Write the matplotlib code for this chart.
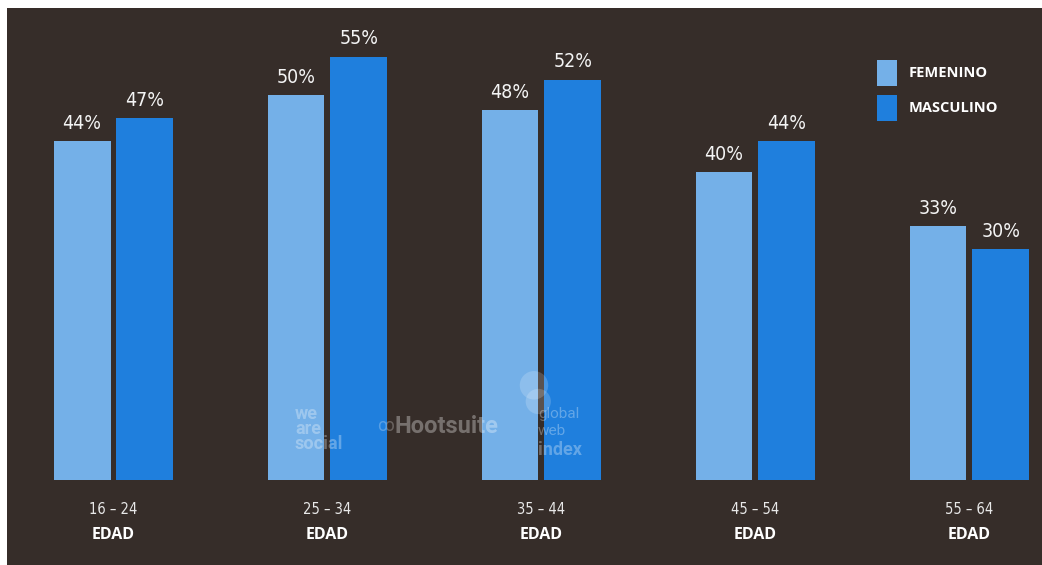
import matplotlib
matplotlib.use('Agg')
import matplotlib.pyplot as plt
import numpy as np

# edad de los usuarios por sexo (%)
grupos = ['16 – 24', '25 – 34', '35 – 44', '45 – 54', '55 – 64']
femenino = [44, 50, 48, 40, 33]
masculino = [47, 55, 52, 44, 30]
series = ['FEMENINO', 'MASCULINO']

fondo = '#362d29'
azul_claro = '#74b0e8'
azul = '#1f7fdd'

fig = plt.figure(figsize=(10.42, 5.65), dpi=100, facecolor='white')
ax = fig.add_axes([7 / 1042, 0, 1035 / 1042, 557 / 565])
ax.set_facecolor(fondo)
for s in ax.spines.values():
    s.set_visible(False)
ax.set_xticks([])
ax.set_yticks([])

x = np.arange(len(grupos))
w = 0.266
off = 0.147
b1 = ax.bar(x - off, femenino, w, color=azul_claro, label=series[0])
b2 = ax.bar(x + off, masculino, w, color=azul, label=series[1])

for barras in (b1, b2):
    for r in barras:
        v = r.get_height()
        ax.annotate(f'{v:.0f}%', (r.get_x() + r.get_width() / 2, v),
                    xytext=(0, 6), textcoords='offset points',
                    ha='center', va='bottom', color='#f4f4f4',
                    fontsize=14, family='DejaVu Sans', stretch='condensed')

for i, g in enumerate(grupos):
    ax.text(i, -3.8, g, ha='center', va='center', color='#e8e8e8',
            fontsize=10.5, family='DejaVu Sans', stretch='condensed')
    ax.text(i, -7.1, 'EDAD', ha='center', va='center', color='white',
            fontsize=11.5, fontweight='bold', family=['Open Sans', 'DejaVu Sans'])

ax.set_xlim(-0.4977, 4.339)
ax.set_ylim(-11.04, 61.3)

# marcas de agua
ax.text(0.848, 6.6, 'we\nare\nsocial', color='white', alpha=0.3,
        fontsize=13, fontweight='bold', family='Roboto',
        linespacing=0.8, ha='left', va='center')
ax.text(1.315, 7.0, 'Hootsuite', color='white', alpha=0.32,
        fontsize=17, fontweight='bold', family='Roboto',
        ha='left', va='center')
ax.text(1.27, 7.0, 'ꝏ', color='white', alpha=0.25, fontsize=12,
        ha='center', va='center')
ax.scatter([1.965, 1.985], [12.3, 10.2], s=[420, 330], color='white',
           alpha=0.18, linewidths=0)
ax.text(1.983, 8.6, 'global', color='white', alpha=0.3,
        fontsize=11, family='Roboto', ha='left', va='center')
ax.text(1.983, 6.4, 'web', color='white', alpha=0.3,
        fontsize=11, family='Roboto', ha='left', va='center')
ax.text(1.983, 3.9, 'index', color='white', alpha=0.3,
        fontsize=13, fontweight='bold', family='Roboto',
        ha='left', va='center')

leg = ax.legend(loc='upper left', bbox_to_anchor=(877 / 1042, 505 / 565),
                bbox_transform=fig.transFigure, frameon=False,
                borderpad=0, borderaxespad=0, handlelength=1.35,
                handleheight=2.35, labelspacing=0.62, handletextpad=0.8,
                prop={'family': ['Open Sans', 'DejaVu Sans'],
                      'weight': 'bold', 'size': 10.5})
for t in leg.get_texts():
    t.set_color('white')

fig.savefig('out.png', dpi=100, facecolor='white')
